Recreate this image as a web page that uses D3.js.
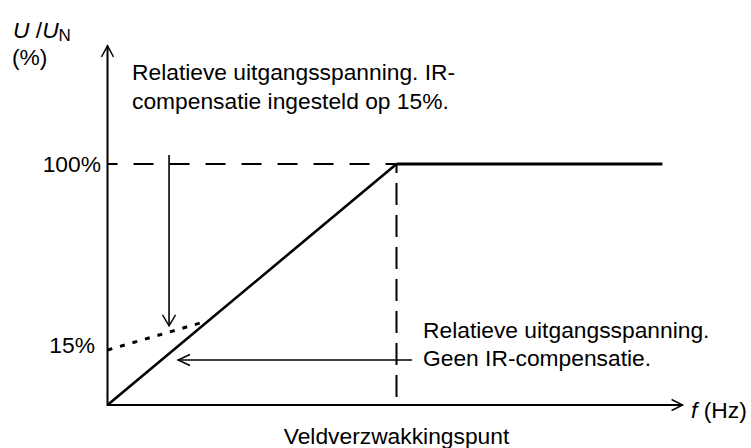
<!DOCTYPE html>
<html>
<head>
<meta charset="utf-8">
<script src="https://cdn.jsdelivr.net/npm/d3@7"></script>
<style>
  html, body { margin: 0; padding: 0; background: #fff; }
  svg { display: block; font-family: Arial, "Liberation Sans", sans-serif; }
  text { fill: #000; }
</style>
</head>
<body>
<svg id="chart" width="751" height="448"></svg>
<script>
// f is expressed relative to the field-weakening point (1 = Veldverzwakkingspunt)
const voltageTicks = [15, 100];
const voltageTickLabels = ["15%", "100%"];
const fieldWeakening = 1;

// Relative output voltage without IR compensation
const noCompensation = [[0, 0], [1, 100], [1.92, 100]];
// Relative output voltage with IR compensation set to 15%
const irCompensation = [[0, 15], [0.346, 28.3]];

const labelCompensated = ["Relatieve uitgangsspanning. IR-", "compensatie ingesteld op 15%."];
const labelUncompensated = ["Relatieve uitgangsspanning.", "Geen IR-compensatie."];
const labelFieldWeakening = "Veldverzwakkingspunt";

const FS = 22.8;
const svg = d3.select("#chart");

const x = d3.scaleLinear().domain([0, 2]).range([107.5, 685.5]);
// schematic voltage axis: the low 0–15 % band is stretched
const y = d3.scaleLinear().domain([0, 15, 100]).range([405, 350, 164]);

const line = d3.line().x(d => x(d[0])).y(d => y(d[1]));

// open chevron arrowhead at (px, py) pointing in direction (dx, dy)
function arrowHead(px, py, dx, dy, len, half) {
  const nx = -dy, ny = dx;
  const bx = px - dx * len, by = py - dy * len;
  return `M${bx + nx * half},${by + ny * half}L${px},${py}L${bx - nx * half},${by - ny * half}`;
}

// axes
const yTop = 154, xEnd = 1.99;
svg.append("path")
  .attr("d", line([[0, yTop], [0, 0], [xEnd, 0]]))
  .attr("fill", "none").attr("stroke", "#000").attr("stroke-width", 2);
svg.append("path")
  .attr("d", arrowHead(x(0), y(yTop), 0, -1, 11, 6))
  .attr("fill", "none").attr("stroke", "#000").attr("stroke-width", 1.4);
svg.append("path")
  .attr("d", arrowHead(x(xEnd), y(0), 1, 0, 11, 5.5))
  .attr("fill", "none").attr("stroke", "#000").attr("stroke-width", 1.4);

// reference dashes at 100 % and the field-weakening point
svg.append("path")
  .attr("d", line([[0, 100], [fieldWeakening, 100]]))
  .attr("fill", "none").attr("stroke", "#000").attr("stroke-width", 2)
  .attr("stroke-dasharray", "20,16").attr("stroke-dashoffset", 10);
svg.append("path")
  .attr("d", line([[fieldWeakening, 100], [fieldWeakening, 0]]))
  .attr("fill", "none").attr("stroke", "#000").attr("stroke-width", 2)
  .attr("stroke-dasharray", "22,10").attr("stroke-dashoffset", 13);

// uncompensated curve
svg.append("path")
  .attr("d", line(noCompensation.slice(0, 2)))
  .attr("fill", "none").attr("stroke", "#000").attr("stroke-width", 2.6);
svg.append("path")
  .attr("d", line(noCompensation.slice(1)))
  .attr("fill", "none").attr("stroke", "#000").attr("stroke-width", 3);

// IR-compensated start
svg.append("path")
  .attr("d", line(irCompensation))
  .attr("fill", "none").attr("stroke", "#000").attr("stroke-width", 3)
  .attr("stroke-dasharray", "5,8");

// tick labels on the voltage axis
svg.selectAll("text.ytick")
  .data(voltageTicks)
  .join("text")
  .attr("class", "ytick")
  .attr("x", (d, i) => i === 0 ? 95 : 101)
  .attr("y", d => y(d) + (d === 15 ? 3 : 8))
  .attr("text-anchor", "end")
  .attr("font-size", FS)
  .text((d, i) => voltageTickLabels[i]);

// axis titles
const yTitle = svg.append("text").attr("x", 13).attr("y", 38).attr("font-size", FS);
yTitle.append("tspan").attr("font-style", "italic").text("U");
yTitle.append("tspan").text(" /");
yTitle.append("tspan").attr("font-style", "italic").text("U");
yTitle.append("tspan").attr("font-size", 17).attr("dy", 3).text("N");
svg.append("text").attr("x", 12).attr("y", 65).attr("font-size", FS).text("(%)");

const xTitle = svg.append("text").attr("x", 691).attr("y", 418).attr("font-size", FS);
xTitle.append("tspan").attr("font-style", "italic").text("f");
xTitle.append("tspan").text(" (Hz)");

svg.append("text")
  .attr("x", x(fieldWeakening)).attr("y", 444)
  .attr("text-anchor", "middle").attr("font-size", FS)
  .text(labelFieldWeakening);

// annotation: compensated curve
svg.selectAll("text.comp")
  .data(labelCompensated)
  .join("text").attr("class", "comp")
  .attr("x", 132).attr("y", (d, i) => 80 + i * 29)
  .attr("font-size", FS)
  .text(d => d);
const downX = 0.213, downFrom = 104.1, downTo = 26.0;
svg.append("path")
  .attr("d", line([[downX, downFrom], [downX, downTo]]))
  .attr("fill", "none").attr("stroke", "#000").attr("stroke-width", 1.6);
svg.append("path")
  .attr("d", arrowHead(x(downX), y(downTo), 0, 1, 11, 6.5))
  .attr("fill", "none").attr("stroke", "#000").attr("stroke-width", 1.4);

// annotation: uncompensated curve
svg.selectAll("text.nocomp")
  .data(labelUncompensated)
  .join("text").attr("class", "nocomp")
  .attr("x", 423).attr("y", (d, i) => 338 + i * 28)
  .attr("font-size", FS)
  .text(d => d);
const leftY = 12.27, leftFrom = 1.054, leftTo = 0.244;
svg.append("path")
  .attr("d", line([[leftFrom, leftY], [leftTo, leftY]]))
  .attr("fill", "none").attr("stroke", "#000").attr("stroke-width", 1.6);
svg.append("path")
  .attr("d", arrowHead(x(leftTo), y(leftY), -1, 0, 12, 5.5))
  .attr("fill", "none").attr("stroke", "#000").attr("stroke-width", 1.4);
</script>
</body>
</html>
